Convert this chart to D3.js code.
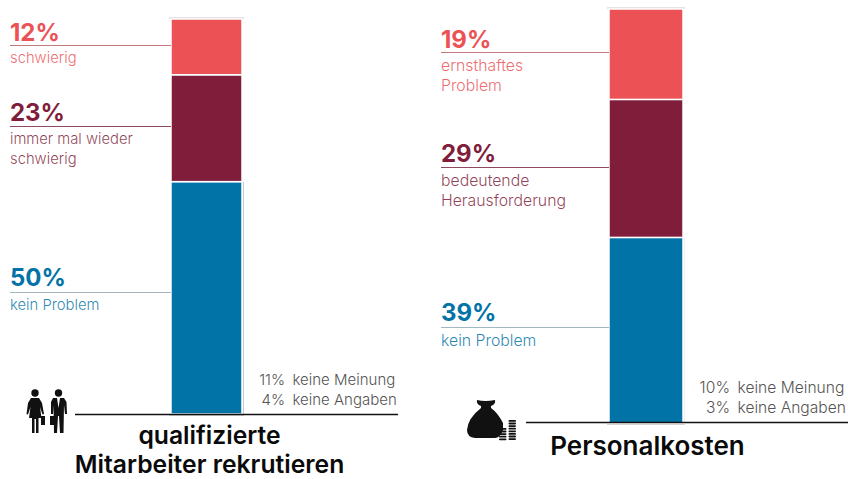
<!DOCTYPE html>
<html>
<head>
<meta charset="utf-8">
<script src="https://cdn.jsdelivr.net/npm/d3@7/dist/d3.min.js"></script>
<style>
    html, body { margin: 0; padding: 0; background: #fff; }
    svg { display: block; }
    text { font-family: "Inter", "Noto Sans", sans-serif; }
</style>
</head>
<body>
<svg width="848" height="479"></svg>
<script>
// данные: значения снизу вверх
const seriesColors = ["#0173a6", "#7f1d3b", "#ec5156"];
const leaderColors = ["#a3b7c2", "#8f4a62", "#c4797c"];

const leftValues = [50, 23, 12];
const leftLabels = [["kein Problem"], ["immer mal wieder", "schwierig"], ["schwierig"]];
const leftRest = [11, 4];

const rightValues = [39, 29, 19];
const rightLabels = [["kein Problem"], ["bedeutende", "Herausforderung"], ["ernsthaftes", "Problem"]];
const rightRest = [10, 3];

const restLabels = ["keine Meinung", "keine Angaben"];

// отступ крупной цифры над выноской
const pctGap = [6.5, 6, 4.5];

const svg = d3.select("svg");

function drawPanel(values, labels, rest, title, area) {
    const total = d3.sum(values);
    const stack = d3.stack().keys(values.map((d, i) => i))([values]);

    // шкалы
    const scaleX = d3.scaleBand().domain([title[0]]).range([area.barLeft, area.barRight]);
    const scaleY = d3.scaleLinear().domain([0, total]).range([area.bottom, area.top]);

    const g = svg.append("g");

    // серые края столбца
    g.append("line")
        .attr("x1", area.barLeft - 2).attr("x2", area.barRight + 2)
        .attr("y1", area.top - 1).attr("y2", area.top - 1)
        .attr("stroke", "#c9c5c8").attr("stroke-width", 1);
    g.append("line")
        .attr("x1", area.barRight + 1.5).attr("x2", area.barRight + 1.5)
        .attr("y1", scaleY(values[0])).attr("y2", area.bottom)
        .attr("stroke", area.edgeColor).attr("stroke-width", 1);
    g.append("line")
        .attr("x1", area.barLeft - 2).attr("x2", area.barRight + 2)
        .attr("y1", area.bottom + 1.5).attr("y2", area.bottom + 1.5)
        .attr("stroke", "#d5d5d5").attr("stroke-width", 1);

    // сегменты
    g.selectAll(".seg")
        .data(stack)
        .enter()
        .append("rect")
        .attr("x", scaleX(title[0]))
        .attr("width", scaleX.bandwidth())
        .attr("y", d => scaleY(d[0][1]))
        .attr("height", d => scaleY(d[0][0]) - scaleY(d[0][1]))
        .attr("fill", (d, i) => seriesColors[i])
        .attr("stroke", "#fff")
        .attr("stroke-width", 1.5);

    // выноски и подписи
    stack.forEach((d, i) => {
        const y = Math.round((scaleY(d[0][0]) + scaleY(d[0][1])) / 2 - area.shift[i]) + 0.5;
        const color = seriesColors[i];
        g.append("line")
            .attr("x1", area.textLeft).attr("x2", area.barLeft)
            .attr("y1", y).attr("y2", y)
            .attr("stroke", leaderColors[i]).attr("stroke-width", 1);
        g.append("text")
            .attr("x", area.textLeft).attr("y", y - pctGap[i])
            .attr("font-size", 24).attr("font-weight", 700)
            .attr("fill", color)
            .text(values[i] + "%");
        labels[i].forEach((line, k) => {
            g.append("text")
                .attr("x", area.textLeft).attr("y", y + area.labelGap + k * 20.5)
                .attr("font-size", area.labelSize).attr("font-weight", 300)
                .attr("fill", color).attr("fill-opacity", 0.85)
                .text(line);
        });
    });

    // остаток справа
    rest.forEach((v, i) => {
        const y = area.restY + i * 20;
        g.append("text")
            .attr("x", area.restX).attr("y", y)
            .attr("text-anchor", "end")
            .attr("font-size", area.restSize).attr("font-weight", 300).attr("fill", "#555")
            .text(v + "%");
        g.append("text")
            .attr("x", area.restX + 7.5).attr("y", y)
            .attr("font-size", area.restSize).attr("font-weight", 300).attr("fill", "#555")
            .text(restLabels[i]);
    });

    // базовая линия
    g.append("line")
        .attr("x1", area.axisLeft).attr("x2", area.axisRight)
        .attr("y1", area.axisY).attr("y2", area.axisY)
        .attr("stroke", "#111").attr("stroke-width", 1.3);

    // заголовок
    title.forEach((line, i) => {
        g.append("text")
            .attr("x", area.titleX).attr("y", area.titleY + i * 29)
            .attr("text-anchor", "middle")
            .attr("font-size", area.titleSize).attr("font-weight", 600).attr("fill", "#0a0a0a")
            .text(line);
    });
}

function drawPeople() {
    const g = svg.append("g").attr("fill", "#111");
    // женщина
    g.append("circle").attr("cx", 35).attr("cy", 393).attr("r", 3.7);
    g.append("path").attr("d", "M31 398 L39 398 L42 403 L44 414 L42.5 414.5 L40 407 L41.5 418 L38.5 418 L38.5 433 L36 433 L36 419 L34.5 419 L34.5 433 L32 433 L32 418 L29 418 L30.5 407 L28 414.5 L26.5 414 L28 403 Z");
    g.append("rect").attr("x", 41).attr("y", 416).attr("width", 4).attr("height", 9);
    // мужчина
    g.append("circle").attr("cx", 58.5).attr("cy", 393).attr("r", 3.7);
    g.append("path").attr("d", "M53 398 L57 398 L58.5 408 L60 398 L64 398 L66.5 402 L67 414 L65 414 L64 405 L63.5 433 L60 433 L59 416 L58 416 L57 433 L54 433 L53.5 405 L53 414 L51 414 L51 402 Z");
    g.append("rect").attr("x", 50).attr("y", 416).attr("width", 4).attr("height", 9);
}

function drawMoney() {
    const g = svg.append("g").attr("fill", "#111");
    // мешок
    g.append("path").attr("d", "M477 400 Q485 402 495 400 Q496 404 491 406 L491 408 Q498 413 503 423 L503 430 Q500 438 495 438 L475 438 Q467 437 467 430 Q468 418 481 408 L481 406 Q476 404 477 400 Z");
    // монеты
    [[502, 428, 5], [511.5, 420, 8]].forEach(c => {
        d3.range(c[2]).forEach(i => {
            g.append("rect")
                .attr("x", c[0] - 3).attr("y", c[1] + i * 2.6)
                .attr("width", 7.5).attr("height", 1.8)
                .attr("rx", 0.9);
        });
    });
}

drawPanel(leftValues, leftLabels, leftRest, ["qualifizierte", "Mitarbeiter rekrutieren"], {
    barLeft: 171, barRight: 242, top: 19, bottom: 414,
    textLeft: 10, shift: [6, 2, 2], labelGap: 17, labelSize: 14.8,
    restX: 285, restY: 385, restSize: 15, edgeColor: "#c9cdd0",
    axisLeft: 75, axisRight: 398, axisY: 414.5,
    titleX: 209.5, titleY: 444, titleSize: 24.7
});

drawPanel(rightValues, rightLabels, rightRest, ["Personalkosten"], {
    barLeft: 609, barRight: 683, top: 9, bottom: 423,
    textLeft: 441, shift: [3, 1, 2], labelGap: 18, labelSize: 15.8,
    restX: 730, restY: 393, restSize: 15.6, edgeColor: "#eef1f3",
    axisLeft: 526, axisRight: 848, axisY: 422.5,
    titleX: 647.5, titleY: 455, titleSize: 26
});

drawPeople();
drawMoney();
</script>
</body>
</html>
